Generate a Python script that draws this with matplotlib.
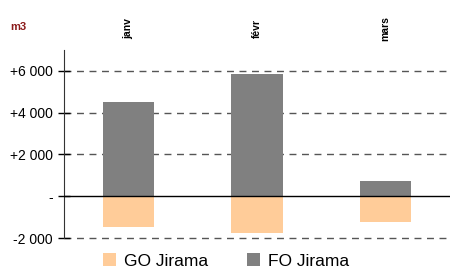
import matplotlib.pyplot as plt
import numpy as np

plt.rcParams["font.family"] = ["Liberation Sans", "DejaVu Sans"]

months = ["janv", "févr", "mars"]
fo_jirama = [4500, 5850, 750]
go_jirama = [-1450, -1750, -1250]
yticks = [-2000, 0, 2000, 4000, 6000]
ytick_labels = ["-2 000", "-", "+2 000", "+4 000", "+6 000"]

fig = plt.figure(figsize=(4.5, 2.69), dpi=100)
ax = fig.add_axes([0.142, 0.115, 0.858, 0.699])

x = np.arange(len(months))
ax.bar(x, go_jirama, width=0.4, color="#FFCC99", label="GO Jirama", zorder=2)
ax.bar(x, fo_jirama, width=0.4, color="#808080", label="FO Jirama", zorder=2)

ax.set_xlim(-0.5, 2.5)
ax.set_ylim(-2000, 7000)
ax.set_yticks(yticks)
ax.set_yticklabels(ytick_labels, fontsize=10)
ax.tick_params(axis="y", direction="inout", length=8, width=1, pad=4)
ax.set_xticks([])

for v in [-2000, 2000, 4000, 6000]:
    ax.axhline(v, color="#555555", linestyle=(0, (5, 4)), linewidth=1,
               zorder=1, clip_on=False)
ax.axhline(0, color="black", linewidth=1, zorder=3)

for s in ["top", "right", "bottom"]:
    ax.spines[s].set_visible(False)
ax.spines["left"].set_color("#333333")

# month labels on top, rotated
for xi, m in zip(x, months):
    ax.text(xi, 1.115, m, transform=ax.get_xaxis_transform(), rotation=90,
            ha="center", va="center", fontsize=7.5, fontweight="bold")

fig.text(0.022, 0.9, "m3", color="#8B1A1A", fontsize=8, fontweight="bold",
         va="center")

ax.legend(loc="upper center", bbox_to_anchor=(0.42, -0.025), ncol=2,
          frameon=False, fontsize=12.5, handlelength=0.75, handleheight=0.75,
          columnspacing=2.2, handletextpad=0.5, borderpad=0.1)

fig.savefig("out.png", dpi=100)
